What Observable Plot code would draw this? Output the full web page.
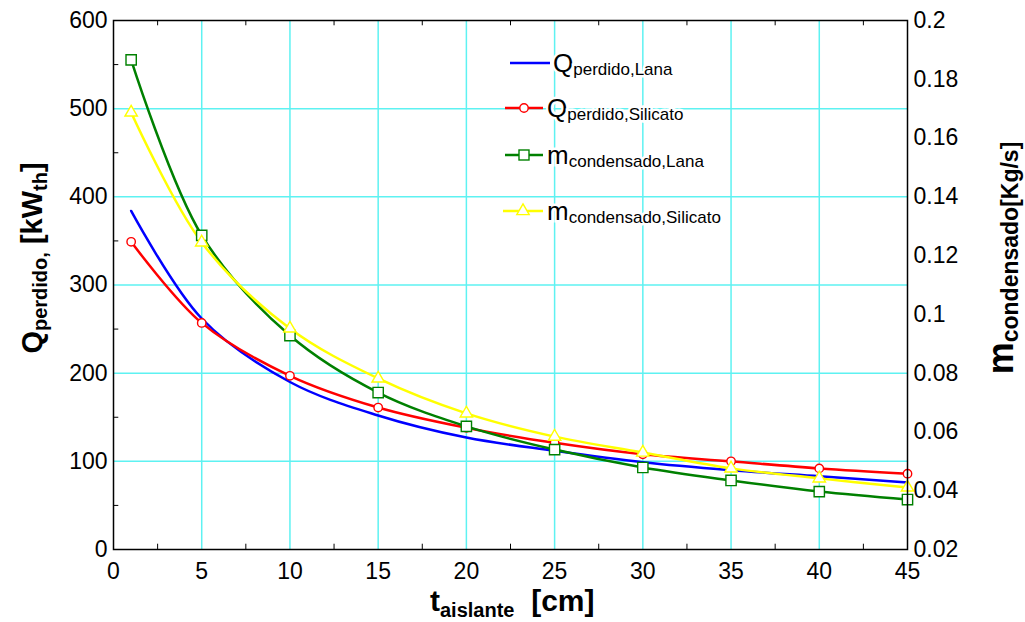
<!DOCTYPE html>
<html><head><meta charset="utf-8">
<script src="https://cdn.jsdelivr.net/npm/d3@7"></script>
<script src="https://cdn.jsdelivr.net/npm/@observablehq/plot@0.6"></script>
<style>
body{margin:0;background:#fff;}
#chart svg{display:block;}
</style>
</head><body><div id="chart"></div>
<script>
// ---- data ----
const thickness = [1, 5, 10, 15, 20, 25, 30, 35, 40, 45];           // t_aislante [cm]
const qLana      = [384, 262, 190, 152, 127, 112, 99, 90, 83, 76];   // kW_th
const qSilicato  = [349, 257, 197, 161, 138, 121, 108, 100, 92, 86]; // kW_th
const mLana      = [0.1866, 0.1269, 0.0928, 0.0734, 0.0619, 0.0540, 0.0479, 0.0435, 0.0397, 0.0370]; // kg/s
const mSilicato  = [0.1687, 0.1245, 0.0952, 0.0782, 0.0663, 0.0584, 0.0530, 0.0476, 0.0442, 0.0411]; // kg/s

const xTicks = [0, 5, 10, 15, 20, 25, 30, 35, 40, 45];
const xMinorTicks = [2.5, 7.5, 12.5, 17.5, 22.5, 27.5, 32.5, 37.5, 42.5];
const yLeftTicks = [0, 100, 200, 300, 400, 500, 600];
const yLeftMinorTicks = [50, 150, 250, 350, 450, 550];
const yRightTicks = [0.02, 0.04, 0.06, 0.08, 0.1, 0.12, 0.14, 0.16, 0.18, 0.2];
const yRightLabels = ["0.02", "0.04", "0.06", "0.08", "0.1", "0.12", "0.14", "0.16", "0.18", "0.2"];

const seriesNames = ["Qperdido,Lana", "Qperdido,Silicato", "mcondensado,Lana", "mcondensado,Silicato"];
const seriesColors = ["#0000ff", "#ff0000", "#008000", "#ffff00"];

// right axis (0.02..0.2) mapped onto left axis (0..600)
const rightMin = 0.02, rightMax = 0.2, leftMax = 600;
const toLeft = m => (m - rightMin) / (rightMax - rightMin) * leftMax;

const rows = (ys, f = v => v) => thickness.map((t, i) => ({t, v: f(ys[i])}));
const dQL = rows(qLana), dQS = rows(qSilicato), dML = rows(mLana, toLeft), dMS = rows(mSilicato, toLeft);

const FONT = "'Liberation Sans', Arial, Helvetica, sans-serif";
const grid = "#5ef2f2";
const curve = "catmull-rom";

const chart = Plot.plot({
  width: 1025, height: 622,
  marginLeft: 113, marginRight: 118, marginTop: 20, marginBottom: 73,
  style: {fontFamily: FONT, background: "#fff", overflow: "visible"},
  x: {domain: [0, 45]},
  y: {domain: [0, 600]},
  marks: [
    Plot.ruleX(xTicks.slice(1, -1), {stroke: grid, strokeWidth: 1.5}),
    Plot.ruleY(yLeftTicks.slice(1, -1), {stroke: grid, strokeWidth: 1.5}),
    // minor ticks (inward)
    Plot.ruleX(xMinorTicks, {y1: 0, y2: 6, stroke: "#000", strokeWidth: 1}),
    Plot.ruleX(xMinorTicks, {y1: 594, y2: 600, stroke: "#000", strokeWidth: 1}),
    Plot.ruleY(yLeftMinorTicks, {x1: 0, x2: 0.3, stroke: "#000", strokeWidth: 1}),
    // curves
    Plot.line(dQL, {x: "t", y: "v", stroke: seriesColors[0], strokeWidth: 2.5, curve}),
    Plot.line(dQS, {x: "t", y: "v", stroke: seriesColors[1], strokeWidth: 2.5, curve}),
    Plot.line(dML, {x: "t", y: "v", stroke: seriesColors[2], strokeWidth: 2.5, curve}),
    Plot.line(dMS, {x: "t", y: "v", stroke: seriesColors[3], strokeWidth: 2.5, curve}),
    Plot.dot(dQS, {x: "t", y: "v", r: 4.2, symbol: "circle", stroke: seriesColors[1], fill: "#fff", strokeWidth: 1.4}),
    Plot.dot(dML, {x: "t", y: "v", r: 5.8, symbol: "square", stroke: seriesColors[2], fill: "#fff", strokeWidth: 1.4}),
    Plot.dot(dMS, {x: "t", y: "v", r: 4.6, symbol: "triangle", stroke: seriesColors[3], fill: "#fff", strokeWidth: 1.4}),
    Plot.frame({stroke: "#000", strokeWidth: 1.5}),
    Plot.axisX({ticks: xTicks, tickSize: 0, tickPadding: 13, fontSize: 23, label: null}),
    Plot.axisY({anchor: "left", ticks: yLeftTicks, tickSize: 0, tickPadding: 6, fontSize: 23, label: null}),
    Plot.axisY({anchor: "right", ticks: yRightTicks.map(toLeft), tickSize: 0, tickPadding: 6, fontSize: 23, label: null,
      tickFormat: (d) => yRightLabels[yRightTicks.findIndex(r => Math.abs(toLeft(r) - d) < 1e-6)]})
  ]
});
document.getElementById("chart").appendChild(chart);

// ---- axis titles and legend (SVG text with subscripts) ----
const svg = d3.select(chart);
function richText(g, parts, attrs) {
  const t = g.append("text").attr("font-family", FONT).attr("fill", "#000").attr("text-anchor", "start");
  for (const [k, v] of Object.entries(attrs)) t.attr(k, v);
  for (const p of parts) {
    const s = t.append("tspan").text(p.text).attr("font-size", p.size);
    if (p.dy) s.attr("dy", p.dy);
    if (p.weight) s.attr("font-weight", p.weight);
  }
  return t;
}
// left title
richText(svg, [
  {text: "Q", size: 29},
  {text: "perdido,", size: 20, dy: 5},
  {text: " [kW", size: 29, dy: -5},
  {text: "th", size: 20, dy: 5},
  {text: "]", size: 29, dy: -5}
], {"font-weight": "bold", "text-anchor": "middle", transform: "translate(42,258) rotate(-90)"});
// right title
richText(svg, [
  {text: "m", size: 36},
  {text: "condensado[Kg/s]", size: 23, dy: 5}
], {"font-weight": "bold", "text-anchor": "middle", transform: "translate(1013,258) rotate(-90)"});
// bottom title
richText(svg, [
  {text: "t", size: 30},
  {text: "aislante", size: 20, dy: 6},
  {text: "  [cm]", size: 30, dy: -6}
], {"font-weight": "bold", "xml:space": "preserve", x: 430, y: 611});

// legend
const legend = svg.append("g");
const legendRows = [
  {y: 63, x1: 510, x2: 550, tx: 553, main: "Q", sub: "perdido,Lana", sym: null},
  {y: 108, x1: 505, x2: 543, tx: 547, main: "Q", sub: "perdido,Silicato", sym: "circle"},
  {y: 155, x1: 505, x2: 543, tx: 547, main: "m", sub: "condensado,Lana", sym: "square"},
  {y: 211, x1: 503, x2: 543, tx: 547, main: "m", sub: "condensado,Silicato", sym: "triangle"}
];
legendRows.forEach((r, i) => {
  const c = seriesColors[i];
  legend.append("line").attr("x1", r.x1).attr("x2", r.x2).attr("y1", r.y).attr("y2", r.y)
    .attr("stroke", c).attr("stroke-width", 2.5);
  const mx = (r.x1 + r.x2) / 2;
  if (r.sym === "circle") legend.append("circle").attr("cx", mx).attr("cy", r.y).attr("r", 4.2)
    .attr("fill", "#fff").attr("stroke", c).attr("stroke-width", 1.4);
  if (r.sym === "square") legend.append("rect").attr("x", mx - 5).attr("y", r.y - 5).attr("width", 10).attr("height", 10)
    .attr("fill", "#fff").attr("stroke", c).attr("stroke-width", 1.4);
  if (r.sym === "triangle") legend.append("path").attr("d", d3.symbol(d3.symbolTriangle, Math.PI * 4.6 * 4.6)())
    .attr("transform", `translate(${mx},${r.y})`).attr("fill", "#fff").attr("stroke", c).attr("stroke-width", 1.4);
  richText(legend, [
    {text: r.main, size: 26},
    {text: r.sub, size: 17, dy: 3}
  ], {x: r.tx, y: r.y + 9, stroke: "#fff", "stroke-width": 5, "paint-order": "stroke"});
});
</script>
</body></html>
